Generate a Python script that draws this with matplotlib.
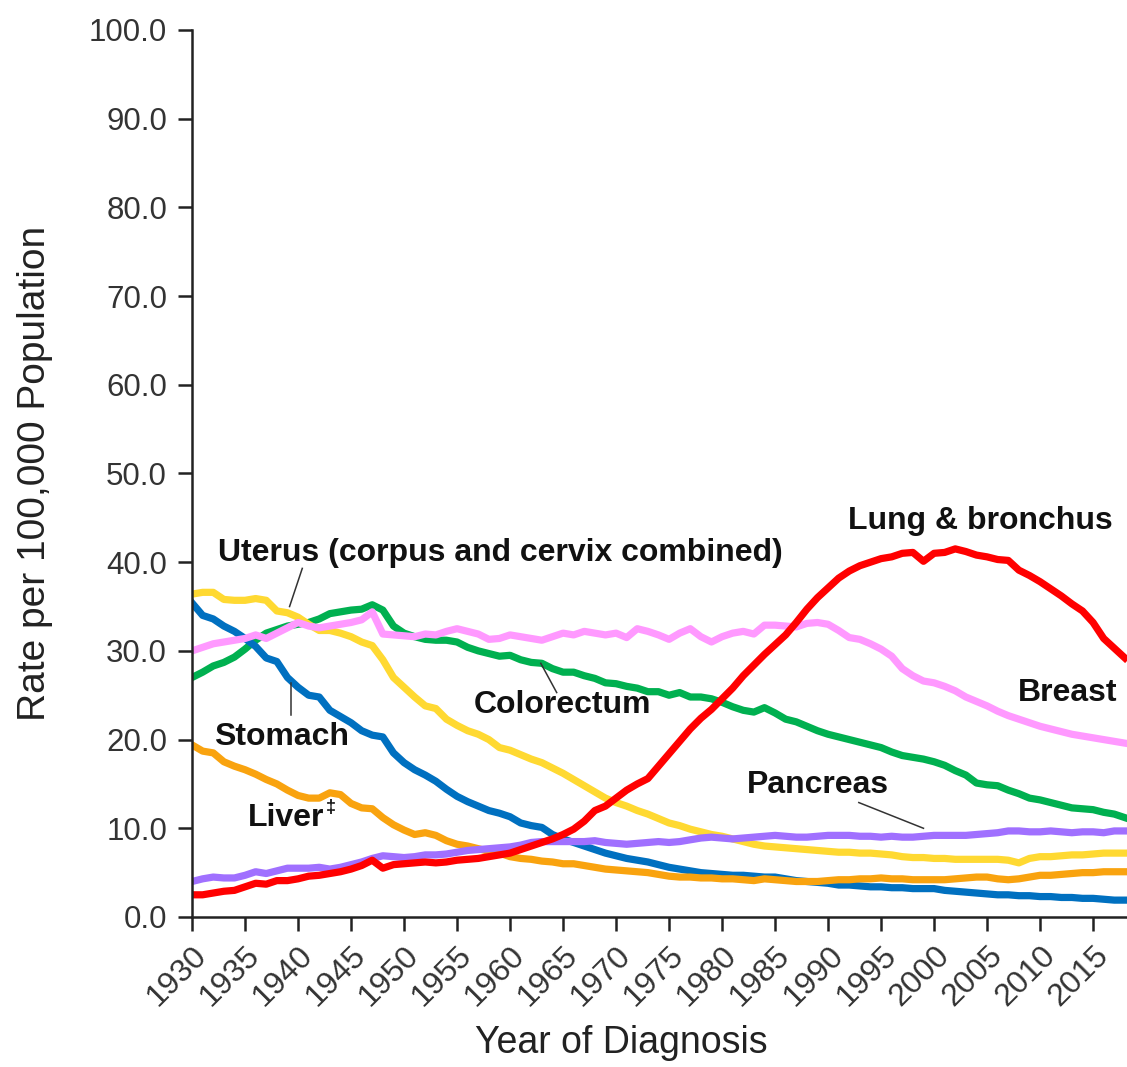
import matplotlib
matplotlib.use("Agg")
import matplotlib.pyplot as plt
import numpy as np

plt.rcParams['font.family'] = ['Liberation Sans', 'DejaVu Sans']

# Year of diagnosis 1930-2018
years = np.arange(1930, 2019)

lung = [2.5, 2.5, 2.7, 2.9, 3.0, 3.4, 3.8, 3.7, 4.1, 4.1,
        4.3, 4.6, 4.7, 4.9, 5.1, 5.4, 5.8, 6.4, 5.5, 5.9,
        6.0, 6.1, 6.2, 6.1, 6.2, 6.4, 6.5, 6.6, 6.8, 7.0,
        7.2, 7.6, 8.0, 8.4, 8.8, 9.3, 9.9, 10.8, 12.0, 12.5,
        13.4, 14.3, 15.0, 15.6, 17.0, 18.4, 19.8, 21.2, 22.4, 23.4,
        24.6, 25.8, 27.2, 28.4, 29.6, 30.7, 31.8, 33.2, 34.7, 36.0,
        37.1, 38.2, 39.0, 39.6, 40.0, 40.4, 40.6, 41.0, 41.1, 40.1,
        41.0, 41.1, 41.5, 41.2, 40.8, 40.6, 40.3, 40.2, 39.1, 38.5,
        37.8, 37.0, 36.2, 35.3, 34.5, 33.2, 31.4, 30.3, 29.2]

breast = [30.0, 30.4, 30.8, 31.0, 31.2, 31.4, 31.8, 31.4, 32.0, 32.6,
          33.2, 32.8, 32.6, 32.8, 33.0, 33.2, 33.5, 34.4, 31.9, 31.8,
          31.7, 31.6, 31.9, 31.8, 32.2, 32.5, 32.2, 31.9, 31.3, 31.4,
          31.8, 31.6, 31.4, 31.2, 31.6, 32.0, 31.8, 32.2, 32.0, 31.8,
          32.0, 31.5, 32.5, 32.2, 31.8, 31.3, 32.0, 32.5, 31.6, 31.0,
          31.6, 32.0, 32.2, 31.9, 32.9, 32.9, 32.8, 32.7, 33.1, 33.2,
          33.0, 32.3, 31.5, 31.3, 30.8, 30.2, 29.4, 28.0, 27.2, 26.6,
          26.4, 26.0, 25.5, 24.8, 24.3, 23.8, 23.2, 22.7, 22.3, 21.9,
          21.5, 21.2, 20.9, 20.6, 20.4, 20.2, 20.0, 19.8, 19.6]

colorectum = [27.0, 27.6, 28.3, 28.7, 29.3, 30.2, 31.2, 32.0, 32.4, 32.8,
              33.0, 33.2, 33.6, 34.2, 34.4, 34.6, 34.7, 35.2, 34.6, 32.8,
              32.0, 31.6, 31.3, 31.2, 31.2, 31.0, 30.4, 30.0, 29.7, 29.4,
              29.5, 29.0, 28.7, 28.6, 28.0, 27.6, 27.6, 27.2, 26.9, 26.4,
              26.3, 26.0, 25.8, 25.4, 25.4, 25.0, 25.3, 24.8, 24.8, 24.6,
              24.2, 23.7, 23.3, 23.1, 23.6, 23.0, 22.3, 22.0, 21.5, 21.0,
              20.6, 20.3, 20.0, 19.7, 19.4, 19.1, 18.6, 18.2, 18.0, 17.8,
              17.5, 17.1, 16.5, 16.0, 15.1, 14.9, 14.8, 14.3, 13.9, 13.4,
              13.2, 12.9, 12.6, 12.3, 12.2, 12.1, 11.8, 11.6, 11.2]

uterus = [36.4, 36.6, 36.6, 35.8, 35.7, 35.7, 35.9, 35.7, 34.5, 34.3,
          33.8, 33.0, 32.3, 32.3, 32.0, 31.6, 31.0, 30.6, 29.0, 27.0,
          25.9, 24.8, 23.8, 23.5, 22.3, 21.6, 21.0, 20.6, 20.0, 19.1,
          18.8, 18.3, 17.8, 17.4, 16.8, 16.2, 15.5, 14.8, 14.1, 13.4,
          12.9, 12.5, 12.0, 11.6, 11.1, 10.6, 10.3, 9.9, 9.6, 9.3,
          9.1, 8.8, 8.5, 8.2, 8.0, 7.9, 7.8, 7.7, 7.6, 7.5,
          7.4, 7.3, 7.3, 7.2, 7.2, 7.1, 7.0, 6.8, 6.7, 6.7,
          6.6, 6.6, 6.5, 6.5, 6.5, 6.5, 6.5, 6.4, 6.1, 6.6,
          6.8, 6.8, 6.9, 7.0, 7.0, 7.1, 7.2, 7.2, 7.2]

stomach = [35.4, 34.0, 33.6, 32.8, 32.2, 31.4, 30.5, 29.2, 28.8, 27.0,
           25.9, 25.0, 24.8, 23.3, 22.6, 21.9, 21.0, 20.5, 20.3, 18.5,
           17.4, 16.6, 16.0, 15.3, 14.4, 13.6, 13.0, 12.5, 12.0, 11.7,
           11.3, 10.6, 10.3, 10.1, 9.3, 8.8, 8.4, 8.0, 7.6, 7.2,
           6.9, 6.6, 6.4, 6.2, 5.9, 5.6, 5.4, 5.2, 5.0, 4.9,
           4.8, 4.7, 4.7, 4.6, 4.5, 4.5, 4.3, 4.1, 4.0, 3.9,
           3.8, 3.6, 3.6, 3.5, 3.4, 3.4, 3.3, 3.3, 3.2, 3.2,
           3.2, 3.0, 2.9, 2.8, 2.7, 2.6, 2.5, 2.5, 2.4, 2.4,
           2.3, 2.3, 2.2, 2.2, 2.1, 2.1, 2.0, 1.9, 1.9]

liver = [19.4, 18.7, 18.5, 17.5, 17.0, 16.6, 16.1, 15.5, 15.0, 14.3,
         13.7, 13.4, 13.4, 14.0, 13.8, 12.8, 12.3, 12.2, 11.2, 10.4,
         9.8, 9.3, 9.5, 9.2, 8.6, 8.2, 8.0, 7.7, 7.4, 7.2,
         6.8, 6.6, 6.5, 6.3, 6.2, 6.0, 6.0, 5.8, 5.6, 5.4,
         5.3, 5.2, 5.1, 5.0, 4.8, 4.6, 4.5, 4.5, 4.4, 4.4,
         4.3, 4.3, 4.2, 4.1, 4.3, 4.2, 4.1, 4.0, 4.0, 4.0,
         4.1, 4.2, 4.2, 4.3, 4.3, 4.4, 4.3, 4.3, 4.2, 4.2,
         4.2, 4.2, 4.3, 4.4, 4.5, 4.5, 4.3, 4.2, 4.3, 4.5,
         4.7, 4.7, 4.8, 4.9, 5.0, 5.0, 5.1, 5.1, 5.1]

pancreas = [4.0, 4.3, 4.5, 4.4, 4.4, 4.7, 5.1, 4.9, 5.2, 5.5,
            5.5, 5.5, 5.6, 5.4, 5.6, 5.9, 6.2, 6.6, 6.9, 6.8,
            6.7, 6.8, 7.0, 7.0, 7.1, 7.3, 7.5, 7.6, 7.7, 7.8,
            7.9, 8.1, 8.4, 8.5, 8.5, 8.5, 8.5, 8.5, 8.6, 8.4,
            8.3, 8.2, 8.3, 8.4, 8.5, 8.4, 8.5, 8.7, 8.9, 9.0,
            8.9, 8.8, 8.9, 9.0, 9.1, 9.2, 9.1, 9.0, 9.0, 9.1,
            9.2, 9.2, 9.2, 9.1, 9.1, 9.0, 9.1, 9.0, 9.0, 9.1,
            9.2, 9.2, 9.2, 9.2, 9.3, 9.4, 9.5, 9.7, 9.7, 9.6,
            9.6, 9.7, 9.6, 9.5, 9.6, 9.6, 9.5, 9.7, 9.7]

fig = plt.figure(figsize=(11.27, 10.67), dpi=100)
ax = fig.add_axes([0.1704, 0.1406, 0.8296, 0.8313])

lw = 5.2
ax.plot(years, colorectum, color='#00B050', lw=lw)
ax.plot(years, stomach, color='#0070C0', lw=lw)
ax.plot(years, liver, color='#F9A30F', lw=lw)
ax.plot(years, uterus, color='#FFD932', lw=lw)
ax.plot(years, pancreas, color='#A070FF', lw=lw)
ax.plot(years, breast, color='#FF99FF', lw=lw)
ax.plot(years, lung, color='#FF0000', lw=lw)

ax.set_xlim(1930, 2018.2)
ax.set_ylim(0, 100)
ax.set_yticks(np.arange(0, 101, 10))
ax.set_yticklabels([f'{v:.1f}' for v in range(0, 101, 10)])
ax.set_xticks(np.arange(1930, 2016, 5))
ax.set_xticklabels([str(y) for y in range(1930, 2016, 5)], rotation=45,
                   ha='right', va='top', rotation_mode='anchor')

for s in ['top', 'right']:
    ax.spines[s].set_visible(False)
for s in ['left', 'bottom']:
    ax.spines[s].set_linewidth(1.8)
    ax.spines[s].set_color('#222222')
ax.tick_params(direction='out', length=10, width=1.8, color='#222222',
               labelsize=22.5, labelcolor='#333333')
ax.tick_params(axis='y', pad=8)
ax.tick_params(axis='x', pad=7, labelsize=23)

ax.set_ylabel('Rate per 100,000 Population', fontsize=28, color='#222222')
ax.yaxis.set_label_coords(-0.149, 0.5)
ax.set_xlabel('Year of Diagnosis', fontsize=27, color='#222222')
ax.xaxis.set_label_coords(0.459, -0.122)

# etiquettes
lab = dict(fontsize=23, fontweight='bold', color='#111111', va='center', ha='left')
ax.text(1932.45, 41.0, 'Uterus (corpus and cervix combined)', **lab)
ax.text(1991.9, 44.6, 'Lung & bronchus', **lab)
ax.text(2007.9, 25.3, 'Breast', **lab)
ax.text(1956.6, 23.9, 'Colorectum', **lab)
ax.text(1982.3, 14.9, 'Pancreas', **lab)
ax.text(1932.1, 20.3, 'Stomach', **lab)
ax.text(1935.3, 11.2, 'Liver', **lab)
ax.text(1942.6, 12.3, '‡', fontsize=13, fontweight='bold', color='#111111',
        va='center', ha='left')

# lignes de rappel
lc = dict(color='#333333', lw=1.1)
ax.plot([1940.4, 1939.2], [39.3, 35.0], **lc)
ax.plot([1939.3, 1939.3], [26.4, 22.8], **lc)
ax.plot([1962.9, 1964.4], [28.6, 25.3], **lc)
ax.plot([1992.9, 1999.0], [12.9, 10.0], **lc)

fig.savefig('out.png', dpi=100)
